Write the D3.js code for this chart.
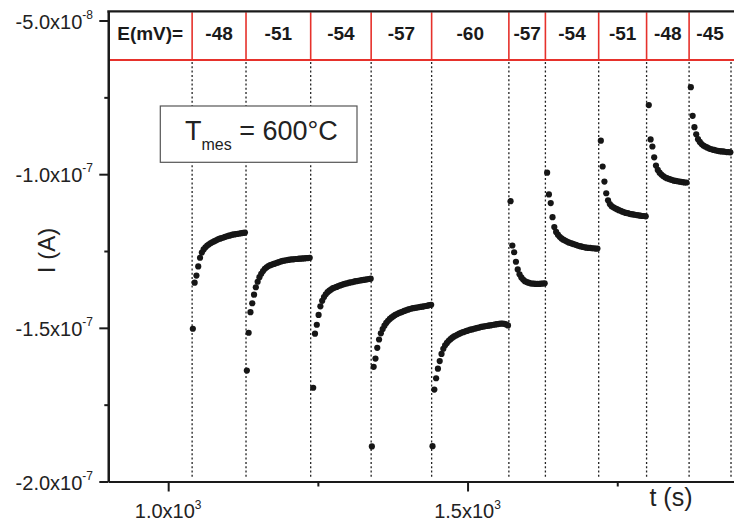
<!DOCTYPE html>
<html>
<head>
<meta charset="utf-8">
<script src="https://cdn.jsdelivr.net/npm/d3@7/dist/d3.min.js"></script>
<style>
  html, body { margin: 0; padding: 0; background: #fff; }
  svg { display: block; font-family: "Liberation Sans", Arial, sans-serif; }
</style>
</head>
<body>
<svg id="chart" width="734" height="525"></svg>
<script>
// ---------------- data ----------------
const switchTimes = [1040, 1130, 1238, 1339, 1440, 1569, 1630, 1719, 1799, 1870, 1940]; // s
const potentials = ["-48", "-51", "-54", "-57", "-60", "-57", "-54", "-51", "-48", "-45"]; // mV
const sampleStart = [1041.2, 1131.4, 1242.2, 1340.2, 1441.5, 1571.8, 1632.9, 1722.6, 1802.7, 1872.9]; // s
const samplePeriod = 3; // s
const unit = 1e-8; // current values below are in units of 1e-8 A

const seg1 = [-15.03,-13.53,-13.30,-13.00,-12.72,-12.55,-12.45,-12.38,-12.32,-12.28,-12.24,-12.21,-12.18,-12.15,-12.12,-12.10,-12.08,-12.06,-12.04,-12.02,-12.00,-11.99,-11.97,-11.96,-11.95,-11.94,-11.93,-11.92,-11.91,-11.90];
const seg2 = [-16.39,-15.16,-14.49,-14.20,-13.92,-13.68,-13.50,-13.35,-13.24,-13.15,-13.08,-13.03,-12.99,-12.96,-12.94,-12.92,-12.90,-12.88,-12.86,-12.84,-12.82,-12.81,-12.80,-12.79,-12.78,-12.77,-12.77,-12.76,-12.76,-12.75,-12.75,-12.74,-12.74,-12.73,-12.73,-12.72];
const seg3 = [-16.95,-15.19,-14.90,-14.58,-14.30,-14.12,-14.00,-13.91,-13.84,-13.79,-13.75,-13.71,-13.69,-13.67,-13.64,-13.62,-13.60,-13.58,-13.56,-13.55,-13.53,-13.52,-13.51,-13.49,-13.48,-13.47,-13.46,-13.45,-13.44,-13.43,-13.42,-13.41,-13.40];
const seg4 = [-18.86,-16.27,-16.00,-15.65,-15.38,-15.18,-15.04,-14.93,-14.84,-14.77,-14.71,-14.66,-14.62,-14.58,-14.55,-14.52,-14.50,-14.48,-14.45,-14.43,-14.41,-14.39,-14.37,-14.36,-14.35,-14.34,-14.33,-14.32,-14.31,-14.30,-14.29,-14.28,-14.26,-14.25];
const seg5 = [-18.85,-17.01,-16.64,-16.33,-16.08,-15.85,-15.68,-15.57,-15.49,-15.42,-15.37,-15.32,-15.28,-15.25,-15.22,-15.19,-15.16,-15.14,-15.12,-15.10,-15.08,-15.06,-15.05,-15.03,-15.02,-15.00,-14.99,-14.97,-14.96,-14.95,-14.94,-14.93,-14.92,-14.91,-14.90,-14.89,-14.88,-14.87,-14.86,-14.86,-14.87,-14.89,-14.92];
const seg6 = [-10.88,-12.32,-12.54,-12.85,-13.10,-13.26,-13.36,-13.43,-13.48,-13.51,-13.53,-13.55,-13.56,-13.56,-13.57,-13.57,-13.57,-13.56,-13.56,-13.55];
const seg7 = [-9.95,-10.66,-10.94,-11.40,-11.72,-11.88,-11.97,-12.04,-12.09,-12.13,-12.16,-12.19,-12.22,-12.24,-12.26,-12.28,-12.30,-12.32,-12.34,-12.35,-12.37,-12.38,-12.39,-12.40,-12.40,-12.41,-12.41,-12.42,-12.42];
const seg8 = [-8.91,-9.75,-10.24,-10.62,-10.85,-10.97,-11.04,-11.08,-11.11,-11.14,-11.17,-11.19,-11.22,-11.24,-11.26,-11.27,-11.29,-11.30,-11.31,-11.32,-11.33,-11.34,-11.35,-11.36,-11.36,-11.37];
const seg9 = [-7.75,-8.87,-9.10,-9.45,-9.72,-9.86,-9.95,-10.01,-10.06,-10.10,-10.13,-10.15,-10.17,-10.19,-10.21,-10.22,-10.23,-10.24,-10.25,-10.26,-10.27,-10.27];
const seg10 = [-7.17,-8.10,-8.47,-8.70,-8.86,-8.95,-9.02,-9.07,-9.10,-9.13,-9.16,-9.18,-9.20,-9.21,-9.23,-9.24,-9.25,-9.26,-9.26,-9.27,-9.28,-9.28,-9.29];
const segments = [seg1, seg2, seg3, seg4, seg5, seg6, seg7, seg8, seg9, seg10];

const xMajorTicks = [1000, 1500];
const xMinorTicks = [1250, 1750];
const xTickMantissa = ["1.0", "1.5"];
const xTickExp = ["3", "3"];
const yMajorTicks = [-2e-7, -1.5e-7, -1e-7, -5e-8];
const yMinorTicks = [-1.75e-7, -1.25e-7, -7.5e-8];
const yTickMantissa = ["-2.0", "-1.5", "-1.0", "-5.0"];
const yTickExp = ["-7", "-7", "-7", "-8"];

// ---------------- layout ----------------
const svg = d3.select("#chart");
const x = d3.scaleLinear().domain([900, 1950]).range([108.3, 737]);
const y = d3.scaleLinear().domain([-2e-7, -4.7e-8]).range([481.5, 11.3]);
const headerBottom = 60;
const ink = "#1a1a1a";
const red = "#e6312b";

// dotted switch lines
svg.append("g").selectAll("line").data(switchTimes).join("line")
  .attr("x1", d => x(d)).attr("x2", d => x(d))
  .attr("y1", headerBottom + 2).attr("y2", y(-2e-7) - 4)
  .attr("stroke", "#222").attr("stroke-width", 1.3)
  .attr("stroke-dasharray", "2,2.3");

// data points
const pts = [];
segments.forEach((seg, s) => {
  seg.forEach((v, k) => pts.push({ t: sampleStart[s] + k * samplePeriod, i: v * unit }));
});
svg.append("g").selectAll("circle").data(pts).join("circle")
  .attr("cx", d => x(d.t)).attr("cy", d => y(d.i))
  .attr("r", 3.1).attr("fill", "#161616");

// header band
const hdr = svg.append("g");
hdr.append("line")
  .attr("x1", x(900)).attr("x2", 734)
  .attr("y1", headerBottom).attr("y2", headerBottom)
  .attr("stroke", red).attr("stroke-width", 1.8);
hdr.selectAll("line.sep").data(switchTimes.slice(0, potentials.length)).join("line")
  .attr("class", "sep")
  .attr("x1", d => x(d)).attr("x2", d => x(d))
  .attr("y1", y.range()[1] + 1).attr("y2", headerBottom)
  .attr("stroke", red).attr("stroke-width", 1.6);
hdr.append("text")
  .attr("x", (x(900) + x(switchTimes[0])) / 2).attr("y", 40)
  .attr("text-anchor", "middle").attr("font-weight", "bold")
  .attr("font-size", 19).attr("fill", ink).text("E(mV)=");
hdr.selectAll("text.pot").data(potentials).join("text")
  .attr("class", "pot")
  .attr("x", (d, i) => (x(switchTimes[i]) + x(switchTimes[i + 1])) / 2)
  .attr("y", 40).attr("text-anchor", "middle").attr("font-weight", "bold")
  .attr("font-size", 19).attr("fill", ink).text(d => d);

// top frame line
svg.append("line")
  .attr("x1", x(900) - 1).attr("x2", 734)
  .attr("y1", y.range()[1]).attr("y2", y.range()[1])
  .attr("stroke", ink).attr("stroke-width", 2.2);

// axes
function styleAxis(g) {
  g.selectAll("path").attr("stroke", ink).attr("stroke-width", 2.2);
  g.selectAll("line").attr("stroke", ink).attr("stroke-width", 2);
  g.selectAll("text").remove();
}
svg.append("g").attr("transform", `translate(0,${y(-2e-7)})`)
  .call(d3.axisBottom(x).tickValues(xMajorTicks).tickSize(10).tickSizeOuter(0).tickFormat(""))
  .call(styleAxis);
svg.append("g").attr("transform", `translate(0,${y(-2e-7)})`)
  .call(d3.axisBottom(x).tickValues(xMinorTicks).tickSize(5).tickSizeOuter(0).tickFormat(""))
  .call(styleAxis);
svg.append("g").attr("transform", `translate(${x(900)},0)`)
  .call(d3.axisLeft(y).tickValues(yMajorTicks).tickSize(9).tickSizeOuter(0).tickFormat(""))
  .call(styleAxis);
svg.append("g").attr("transform", `translate(${x(900)},0)`)
  .call(d3.axisLeft(y).tickValues(yMinorTicks).tickSize(4).tickSizeOuter(0).tickFormat(""))
  .call(styleAxis);

// x tick labels
xMajorTicks.forEach((t, i) => {
  const tx = svg.append("text").attr("x", x(t)).attr("y", 518)
    .attr("text-anchor", "middle").attr("font-size", 20).attr("fill", "#222");
  tx.append("tspan").text(xTickMantissa[i] + "x10");
  tx.append("tspan").attr("font-size", 12).attr("dy", -9).text(xTickExp[i]);
});
// y tick labels
yMajorTicks.forEach((v, i) => {
  const tx = svg.append("text").attr("x", 93).attr("y", y(v) + 8)
    .attr("text-anchor", "end").attr("font-size", 20).attr("fill", "#222");
  tx.append("tspan").text(yTickMantissa[i] + "x10");
  tx.append("tspan").attr("font-size", 12).attr("dy", -10).text(yTickExp[i]);
});

// axis titles
svg.append("text").attr("x", 671).attr("y", 506)
  .attr("text-anchor", "middle").attr("font-size", 25).attr("fill", "#222").text("t (s)");
svg.append("text").attr("transform", "translate(55,250.5) rotate(-90)")
  .attr("text-anchor", "middle").attr("font-size", 24).attr("fill", "#222").text("I (A)");

// temperature box
svg.append("rect").attr("x", 160.3).attr("y", 106).attr("width", 196.7).attr("height", 56.3)
  .attr("fill", "#fff").attr("stroke", "#555").attr("stroke-width", 1.2);
const tm = svg.append("text").attr("x", 185).attr("y", 140).attr("font-size", 27).attr("fill", "#222");
tm.append("tspan").text("T");
tm.append("tspan").attr("font-size", 16).attr("dy", 10).text("mes");
tm.append("tspan").attr("dy", -10).text(" = 600°C");
</script>
</body>
</html>
